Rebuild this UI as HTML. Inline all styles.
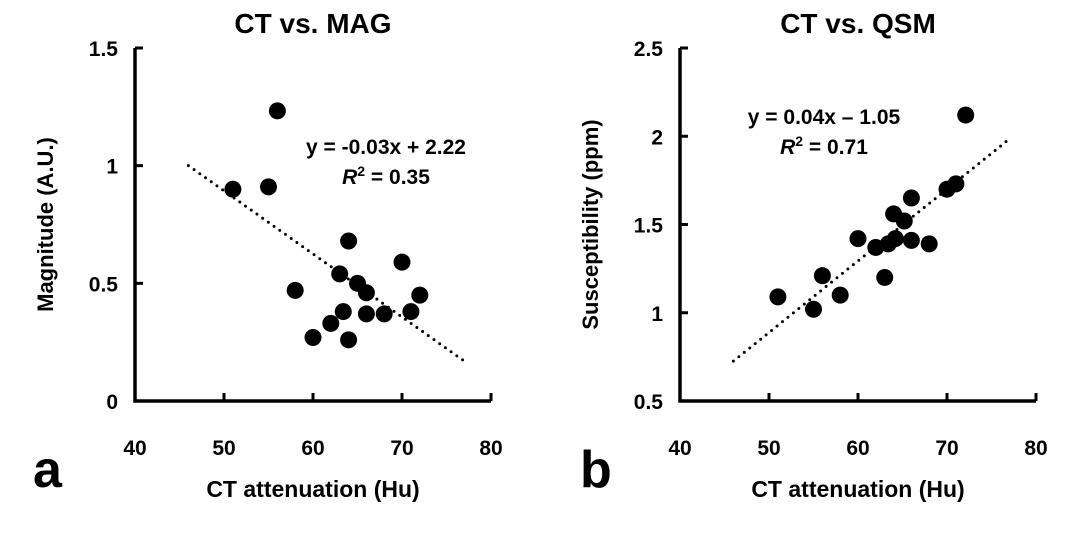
<!DOCTYPE html>
<html><head><meta charset="utf-8"><style>
body{margin:0;background:#fff}
svg text{font-family:"Liberation Sans",Arial,sans-serif;font-weight:bold;fill:#000}
</style></head><body>
<svg id="c" width="1074" height="548" xmlns="http://www.w3.org/2000/svg"></svg>
<script>
const magX=[56,51,55,64,70,63,65,66,58,72,63.4,66,68,71,62,60,64];
const magY=[1.233,0.90,0.91,0.68,0.59,0.54,0.50,0.46,0.47,0.45,0.38,0.37,0.37,0.38,0.33,0.27,0.26];
const qsmX=[72.1,71,70,66,64,65.2,60,62,63.4,64.2,66,68,63,56,58,51,55];
const qsmY=[2.12,1.73,1.70,1.65,1.56,1.52,1.42,1.37,1.39,1.42,1.41,1.39,1.20,1.21,1.10,1.09,1.02];
const xTicks=[40,50,60,70,80];
const magTicks=[0,0.5,1,1.5];
const qsmTicks=[0.5,1,1.5,2,2.5];
const magFit=[-0.0268,2.233];
const qsmFit=[0.0406,-1.142];
const fitRange=[46,77];
const NS="http://www.w3.org/2000/svg";
const svg=document.getElementById('c');
function mk(t,a,p){const e=document.createElementNS(NS,t);for(const k in a)e.setAttribute(k,a[k]);(p||svg).appendChild(e);return e;}
function panel(o){
  const g=mk('g',{});
  
  
  const sx=v=>o.x0+(v-40)/40*(o.x1-o.x0);
  const sy=v=>o.yb-(v-o.ymin)/(o.ymax-o.ymin)*(o.yb-o.yt);
  const ax=mk('path',{d:`M${o.x0} ${o.yt}V${o.yb}H${o.x1}`,stroke:'#000','stroke-width':3.5,fill:'none'},g);
  
  xTicks.forEach(t=>{const X=sx(t);mk('line',{x1:X,x2:X,y1:o.yb,y2:o.yb-8,stroke:'#000','stroke-width':3},g);
    const tx=mk('text',{x:X,y:o.yb+54,'text-anchor':'middle','font-size':21},g);tx.textContent=t;
    });
  o.yt_.forEach(t=>{const Y=sy(t);mk('line',{x1:o.x0,x2:o.x0+8,y1:Y,y2:Y,stroke:'#000','stroke-width':3},g);
    const tx=mk('text',{x:o.x0-17,y:Y+8,'text-anchor':'end','font-size':21},g);tx.textContent=t;
    });
  const fl=mk('line',{x1:sx(fitRange[0]),y1:sy(o.fit[0]*fitRange[0]+o.fit[1]),x2:sx(fitRange[1]),y2:sy(o.fit[0]*fitRange[1]+o.fit[1]),stroke:'#000','stroke-width':3,'stroke-dasharray':'0 7','stroke-linecap':'round'},g);
  
  o.xs.forEach((v,i)=>{const c=mk('circle',{cx:sx(v),cy:sy(o.ys[i]),r:8.5,fill:'#000'},g);
    });
  const ti=mk('text',{x:(o.x0+o.x1)/2,y:33,'text-anchor':'middle','font-size':28},g);ti.textContent=o.title;
  
  const xl=mk('text',{x:(o.x0+o.x1)/2,y:497,'text-anchor':'middle','font-size':23},g);xl.textContent='CT attenuation (Hu)';
  
  const yl=mk('text',{x:0,y:0,'text-anchor':'middle','font-size':22,transform:`translate(${o.x0-82},${(o.yt+o.yb)/2}) rotate(-90)`},g);yl.textContent=o.ylab;
  
  const e1=mk('text',{x:o.ex,y:o.ey,'text-anchor':'middle','font-size':21},g);e1.textContent=o.eq;
  
  const e2=mk('text',{x:o.ex,y:o.ey+30,'text-anchor':'middle','font-size':21},g);
  e2.innerHTML='<tspan font-style="italic">R</tspan><tspan dy="-8" font-size="14">2</tspan><tspan dy="8"> = '+o.r2+'</tspan>';
  
  const L=mk('text',{x:o.lx,y:487,'font-size':52},g);L.textContent=o.letter;
  
}
panel({name:'chart-ct-vs-mag',x0:135,x1:491,yt:48,yb:401,ymin:0,ymax:1.5,yt_:magTicks,xs:magX,ys:magY,fit:magFit,title:'CT vs. MAG',ylab:'Magnitude (A.U.)',eq:'y = -0.03x + 2.22',r2:'0.35',ex:386,ey:154,letter:'a',lx:33});
panel({name:'chart-ct-vs-qsm',x0:680,x1:1036,yt:48,yb:401,ymin:0.5,ymax:2.5,yt_:qsmTicks,xs:qsmX,ys:qsmY,fit:qsmFit,title:'CT vs. QSM',ylab:'Susceptibility (ppm)',eq:'y = 0.04x – 1.05',r2:'0.71',ex:824,ey:124,letter:'b',lx:580});
</script>
</body></html>
